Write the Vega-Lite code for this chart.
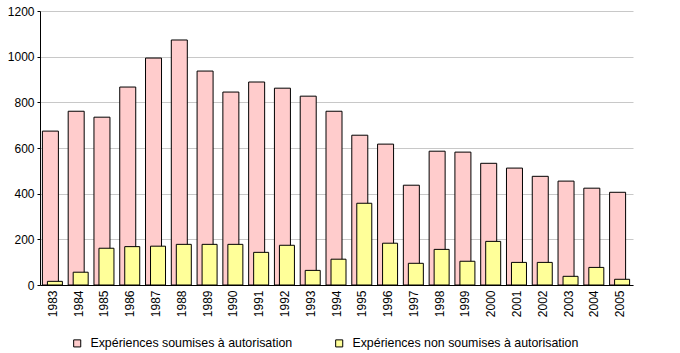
{
  "$schema": "https://vega.github.io/schema/vega-lite/v6.json",
  "width": 593,
  "height": 274,
  "autosize": {"type": "none"},
  "padding": {"left": 40, "top": 11, "right": 47, "bottom": 68},
  "background": "white",
  "config": {
    "view": {"stroke": null},
    "font": "Liberation Sans",
    "axis": {"labelFont": "Liberation Sans", "labelColor": "black"},
    "legend": {"labelFont": "Liberation Sans"}
  },
  "data": {
    "values": [
      {"year": "1983", "series": "Expériences soumises à autorisation", "value": 674},
      {"year": "1984", "series": "Expériences soumises à autorisation", "value": 761},
      {"year": "1985", "series": "Expériences soumises à autorisation", "value": 735},
      {"year": "1986", "series": "Expériences soumises à autorisation", "value": 867},
      {"year": "1987", "series": "Expériences soumises à autorisation", "value": 994},
      {"year": "1988", "series": "Expériences soumises à autorisation", "value": 1073},
      {"year": "1989", "series": "Expériences soumises à autorisation", "value": 937},
      {"year": "1990", "series": "Expériences soumises à autorisation", "value": 845},
      {"year": "1991", "series": "Expériences soumises à autorisation", "value": 889},
      {"year": "1992", "series": "Expériences soumises à autorisation", "value": 862},
      {"year": "1993", "series": "Expériences soumises à autorisation", "value": 827},
      {"year": "1994", "series": "Expériences soumises à autorisation", "value": 761},
      {"year": "1995", "series": "Expériences soumises à autorisation", "value": 656},
      {"year": "1996", "series": "Expériences soumises à autorisation", "value": 617},
      {"year": "1997", "series": "Expériences soumises à autorisation", "value": 437},
      {"year": "1998", "series": "Expériences soumises à autorisation", "value": 586},
      {"year": "1999", "series": "Expériences soumises à autorisation", "value": 582},
      {"year": "2000", "series": "Expériences soumises à autorisation", "value": 533},
      {"year": "2001", "series": "Expériences soumises à autorisation", "value": 512},
      {"year": "2002", "series": "Expériences soumises à autorisation", "value": 476},
      {"year": "2003", "series": "Expériences soumises à autorisation", "value": 455},
      {"year": "2004", "series": "Expériences soumises à autorisation", "value": 424},
      {"year": "2005", "series": "Expériences soumises à autorisation", "value": 406},
      {"year": "1983", "series": "Expériences non soumises à autorisation", "value": 16},
      {"year": "1984", "series": "Expériences non soumises à autorisation", "value": 56},
      {"year": "1985", "series": "Expériences non soumises à autorisation", "value": 161},
      {"year": "1986", "series": "Expériences non soumises à autorisation", "value": 168},
      {"year": "1987", "series": "Expériences non soumises à autorisation", "value": 170},
      {"year": "1988", "series": "Expériences non soumises à autorisation", "value": 178},
      {"year": "1989", "series": "Expériences non soumises à autorisation", "value": 178},
      {"year": "1990", "series": "Expériences non soumises à autorisation", "value": 178},
      {"year": "1991", "series": "Expériences non soumises à autorisation", "value": 143},
      {"year": "1992", "series": "Expériences non soumises à autorisation", "value": 174},
      {"year": "1993", "series": "Expériences non soumises à autorisation", "value": 64},
      {"year": "1994", "series": "Expériences non soumises à autorisation", "value": 113},
      {"year": "1995", "series": "Expériences non soumises à autorisation", "value": 358},
      {"year": "1996", "series": "Expériences non soumises à autorisation", "value": 183},
      {"year": "1997", "series": "Expériences non soumises à autorisation", "value": 95},
      {"year": "1998", "series": "Expériences non soumises à autorisation", "value": 156},
      {"year": "1999", "series": "Expériences non soumises à autorisation", "value": 104},
      {"year": "2000", "series": "Expériences non soumises à autorisation", "value": 191},
      {"year": "2001", "series": "Expériences non soumises à autorisation", "value": 99},
      {"year": "2002", "series": "Expériences non soumises à autorisation", "value": 99},
      {"year": "2003", "series": "Expériences non soumises à autorisation", "value": 38},
      {"year": "2004", "series": "Expériences non soumises à autorisation", "value": 77},
      {"year": "2005", "series": "Expériences non soumises à autorisation", "value": 25}
    ]
  },
  "encoding": {
    "x": {
      "field": "year",
      "type": "nominal",
      "scale": {"paddingInner": 0, "paddingOuter": 0},
      "axis": {
        "title": null,
        "labelAngle": -90,
        "labelFontSize": 12,
        "ticks": false,
        "domainColor": "black",
        "labelPadding": 5
      }
    },
    "y": {
      "field": "value",
      "type": "quantitative",
      "scale": {"domain": [0, 1200], "nice": false},
      "axis": {
        "title": null,
        "values": [0, 200, 400, 600, 800, 1000, 1200],
        "format": "d",
        "labelFontSize": 12,
        "tickSize": 3,
        "tickColor": "black",
        "domainColor": "black",
        "gridColor": "#c8c8c8",
        "labelPadding": 3
      }
    },
    "color": {
      "field": "series",
      "type": "nominal",
      "scale": {
        "domain": ["Expériences soumises à autorisation", "Expériences non soumises à autorisation"],
        "range": ["#ffcccc", "#ffff99"]
      },
      "legend": {
        "title": null,
        "orient": "none",
        "legendX": 31,
        "legendY": 326,
        "direction": "horizontal",
        "columns": 2,
        "columnPadding": 40,
        "symbolType": "square",
        "symbolSize": 50,
        "symbolStrokeColor": "black",
        "symbolStrokeWidth": 1,
        "labelFontSize": 12.4,
        "labelLimit": 300,
        "labelOffset": 7
      }
    }
  },
  "layer": [
    {
      "transform": [{"filter": "datum.series === 'Expériences soumises à autorisation'"}],
      "mark": {"type": "bar", "width": 16, "xOffset": -2.5, "stroke": "black", "strokeWidth": 1, "opacity": 1}
    },
    {
      "transform": [{"filter": "datum.series === 'Expériences non soumises à autorisation'"}],
      "mark": {"type": "bar", "width": 15, "xOffset": 2, "stroke": "black", "strokeWidth": 1, "opacity": 1}
    }
  ]
}
